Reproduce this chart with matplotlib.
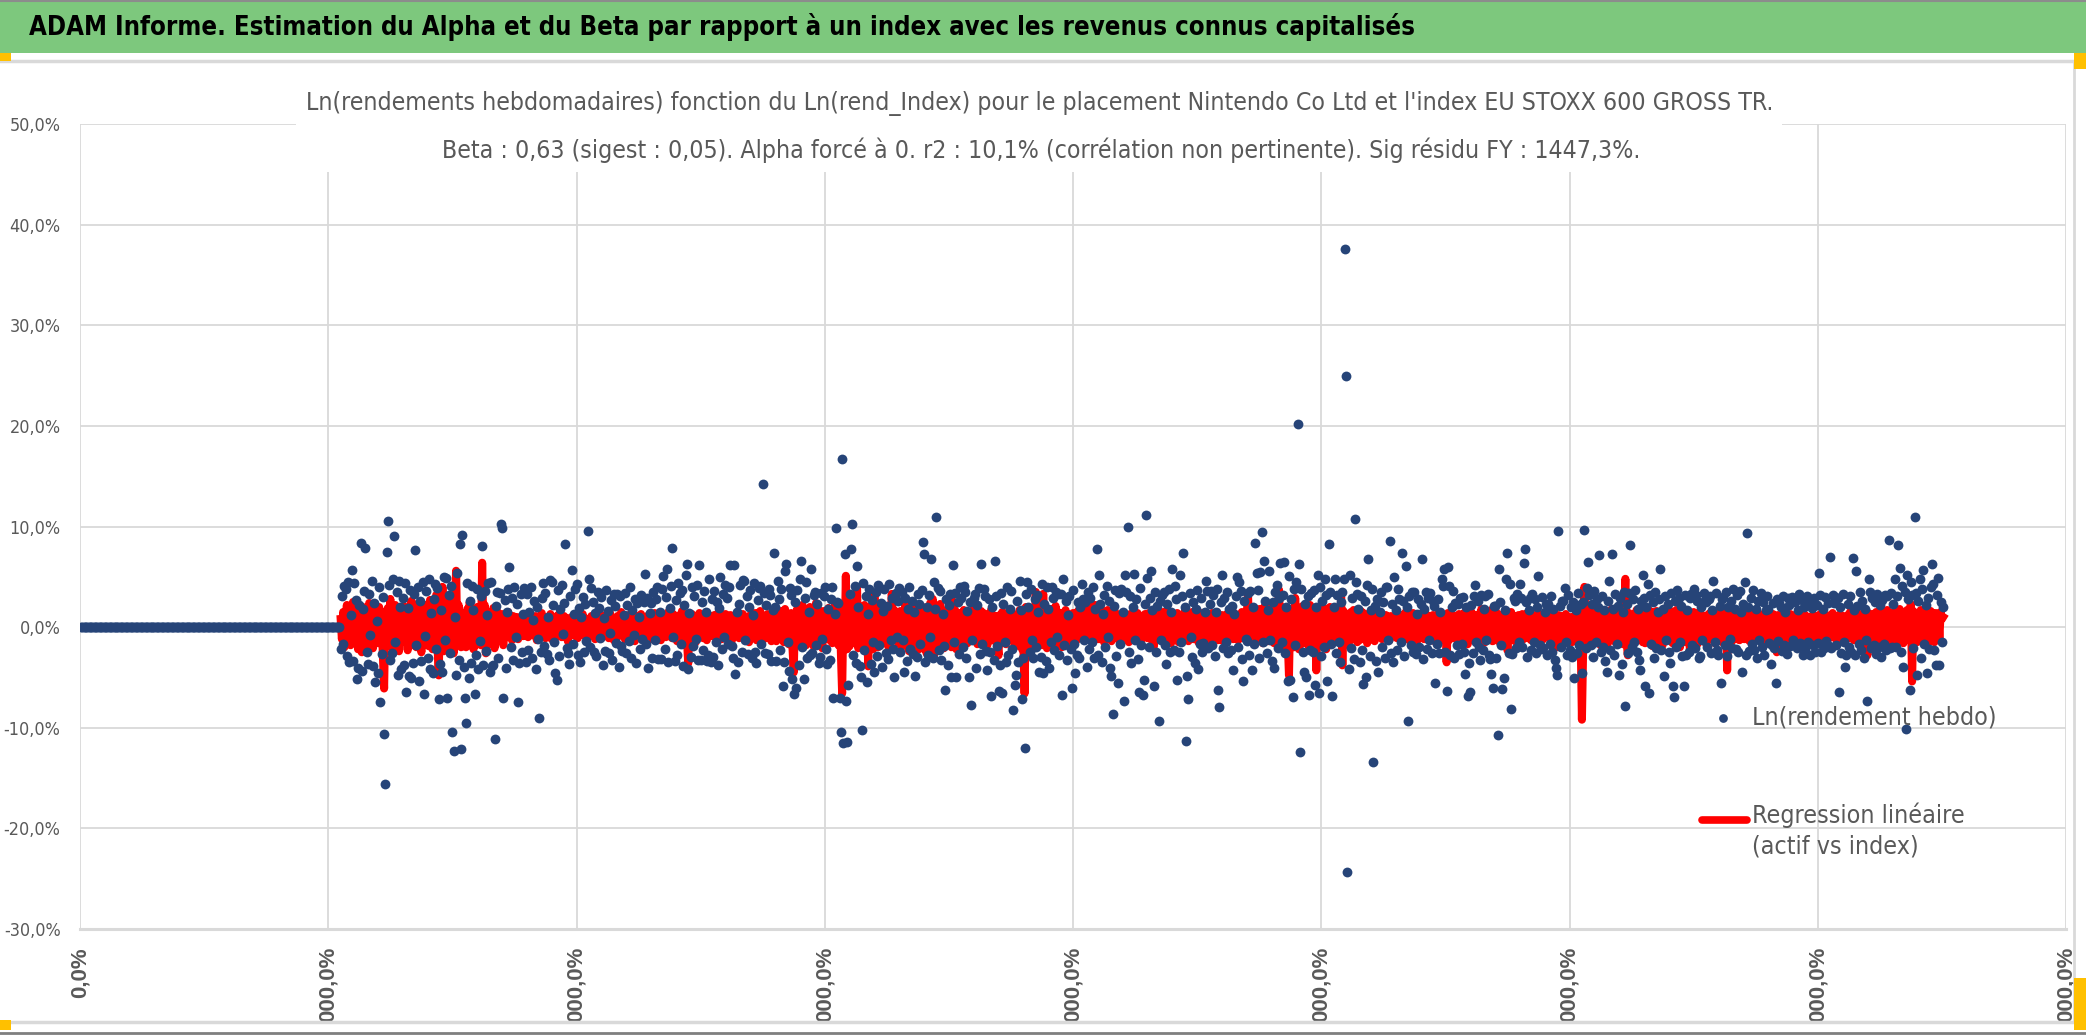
import numpy as np
import matplotlib.pyplot as plt
from matplotlib import font_manager as fm
from matplotlib.ticker import FuncFormatter
from matplotlib.patches import Rectangle
from matplotlib.lines import Line2D

# ------------------------------------------------
# data : weekly log returns, in tenths of a percent
# (50 weeks per block, first real week = 210, weeks 1..209 are zero)
# ------------------------------------------------
first_week = 210
n_zero = first_week - 1

asset_01 = [-22,31,-17,41,38,-29,45,-35,12,57, -34,44,27,-52,-41,22,84,-44,18,36, 79,-25,-37,33,-8,46,-39,24,-55,6, -46,40,-74,-27,30,-106,-156,75,105,42, -33,-26,48,91,-15,35,-48,46,20,-42]
asset_02 = [29,-38,44,-64,19,-49,37,-51,-36,33, 77,-18,40,-54,26,-34,45,-66,-9,36, -31,48,-42,14,-46,28,43,-22,39,-71, -37,17,-45,50,-13,49,-70,32,-26,41, -104,-123,10,-48,54,-33,83,-121,92,-40]
asset_03 = [-70,-95,44,-51,26,-36,41,17,-66,-28, 38,-42,-14,31,81,-38,36,-24,12,44, -45,45,-39,-38,-111,21,35,-31,34,102, 99,-70,27,-41,15,38,60,-20,29,-33, 40,-10,23,-74,-36,33,-25,13,39,-35]
asset_04 = [33,-23,15,40,-31,7,26,-42,20,-12, -90,-25,29,44,-19,34,-27,10,-33,47, 45,22,-15,-46,-53,37,-29,18,42,-7, 24,83,-21,-26,-37,31,57,-17,13,38, 43,-28,19,-35,10,30,-25,23,-14,96]
asset_05 = [48,-20,39,25,-25,14,-29,35,19,-11, 30,-38,9,-24,37,16,-26,-6,27,-33, 33,21,-16,33,-40,31,-19,-24,12,34, -26,22,-14,40,-31,17,-8,28,-36,24, 10,-22,32,-12,25,53,-17,29,-41,14]
asset_06 = [24,-31,35,-13,28,40,-32,15,-32,38, 51,-22,30,58,-35,19,41,79,-10,-34, 27,-28,44,34,-17,37,-39,22,52,63, -42,14,-30,40,-19,31,-12,42,-33,62, -33,25,-23,36,15,-34,-28,48,-35,28]
asset_07 = [-30,36,-15,25,-38,19,50,-22,33,-10, 42,29,-17,40,62,-19,-31,62,-47,15, -35,23,42,-25,47,46,-13,31,-27,20, 37,-31,12,44,-25,-36,27,39,41,-17, 142,34,-26,22,-27,38,32,-34,17,74]
asset_08 = [20,-34,46,28,-23,38,-59,-35,56,63, -15,-44,39,32,-52,-66,25,-60,37,-38, 48,66,-20,-52,29,45,-31,15,-28,58, -26,32,35,-18,23,-36,-30,34,-12,31, 40,-22,-37,18,-33,28,40,-70,13,99]
asset_09 = [25,24,-70,-104,167,-115,73,-73,-114,-58, 33,78,102,-28,41,-36,61,20,-39,-50, -102,44,-23,31,-55,13,38,-37,27,-15, -45,35,-29,42,-18,24,-40,16,38,-26, 21,-32,43,-13,29,-22,-50,34,-10,26]
asset_10 = [39,-25,35,-13,-45,29,-34,18,40,-22, 26,-27,15,-49,-30,33,23,-17,37,85, 73,-35,20,-28,32,-10,68,-31,45,18, 109,39,-23,36,-33,13,-19,-62,28,-38, 22,33,-50,62,-15,34,-50,25,-27,40]
asset_11 = [29,-20,41,35,-31,16,-50,25,-77,-13, 29,33,-41,22,39,-27,63,-17,38,31, -24,-43,28,-25,-68,20,-33,66,31,-19, -63,-38,34,-65,23,-15,-35,40,-28,18, 36,-22,-82,-58,-48,26,-35,46,17,-71]
asset_12 = [-31,-120,33,45,20,-25,38,-13,-31,28, -20,32,15,-45,-30,43,-46,23,-34,40, 18,-41,-15,40,29,-23,35,-10,33,-28, 33,-67,48,-18,26,-33,12,31,-22,-60, 37,-17,-46,-28,25,-31,20,43,28,-13]
asset_13 = [25,-40,35,-22,29,-15,40,-31,18,78, -28,52,23,-35,13,32,-20,41,-10,26, -41,-49,-86,21,37,-29,-56,34,-17,38, 15,-73,52,35,100,-25,31,-36,20,53, -13,28,-32,-64,39,-18,-67,-53,23,111]
asset_14 = [49,-20,29,56,17,-59,35,-25,21,-93, 26,-13,32,35,-18,-37,23,38,-25,15, 58,-23,41,28,-53,-25,52,-15,31,74, 20,-113,-49,-71,34,-10,-30,25,-36,18, 37,-42,-17,29,-25,-16,15,46,36,-21]
asset_15 = [23,36,-18,32,-29,15,38,-62,-79,25, 52,-21,29,-15,35,-26,18,-23,21,-43, 13,31,50,-20,45,36,-32,-54,26,-12, -14,34,-28,36,-43,20,-17,84,54,37, -31,55,95,-15,66,26,-26,17,56,-13]
asset_16 = [-34,25,-41,35,42,-21,29,64,-15,32, 65,-26,20,-54,51,-53,28,-69,38,-18, 45,202,63,-124,38,-25,-45,23,-50,31, -67,-23,34,-25,37,-58,20,52,-65,40, -29,26,-20,48,32,-54,83,35,-17,-68]
asset_17 = [20,48,-26,32,-15,-35,25,35,48,376, 250,-243,-42,52,-21,29,-32,107,45,33, 18,-35,31,-23,-57,26,-50,42,68,-29, 17,38,-134,21,-34,28,-45,15,35,-20, 25,-31,40,40,-13,86,-26,23,-35,50]
asset_18 = [17,-23,38,28,-15,74,26,-29,61,20, -93,31,-18,35,-25,35,-27,13,28,-20, 23,68,-32,18,35,-22,29,-13,34,-26, 26,21,-56,-17,28,-26,15,48,41,58, -25,-63,60,41,-28,20,36,-31,24,-18]
asset_19 = [23,-27,29,-17,30,-25,-47,20,-68,-36, -64,22,-26,31,42,-15,26,-20,-33,32, -23,18,31,-13,33,-28,-32,-47,-60,21, 21,-31,-107,58,25,-18,-61,-51,17,48, 74,-26,43,-81,-27,29,26,-21,33,-15]
asset_20 = [43,29,-20,64,78,25,-30,17,29,-23, 33,-15,28,-26,20,51,-18,-22,30,-21, 15,23,-28,23,-17,31,-25,18,-33,-41, -48,96,21,-20,26,26,39,-15,-28,32, -23,20,-30,25,-51,17,-26,34,-18,23]
asset_21 = [-46,25,97,-21,39,65,32,-18,23,-30, 36,-15,28,20,72,-25,31,-20,17,-34, -45,26,46,-23,73,18,-28,33,-17,21, -48,29,-37,15,35,-78,23,-26,34,82, -20,28,-15,37,-25,18,-33,-43,26,52]
asset_22 = [29,-59,20,43,-65,32,-17,25,-31,35, -21,15,28,58,-23,18,-49,31,-13,23, -25,-36,34,-59,-69,26,-20,37,29,-15, 21,-29,-59,32,-28,17,-25,29,33,-18, 38,-21,32,26,-31,-29,20,-13,34,27]
asset_23 = [25,-20,28,31,-26,17,46,-15,34,-23, -28,21,-56,28,30,-18,35,-29,20,-12, 26,-21,38,18,-22,32,-25,36,15,-45, 23,45,-28,94,20,-24,29,-17,37,-23, 18,-31,26,-13,34,-20,25,-28,17,31]
asset_24 = [18,-16,-37,-18,24,-21,-56,28,-14,24, 20,-24,31,-18,15,-27,29,22,-19,30, -13,-15,25,-21,17,33,-16,27,-28,20, -22,31,-15,24,-28,19,-18,29,-25,22, -16,54,32,-25,18,-21,30,-14,24,-19]
asset_25 = [70,-21,32,24,30,-18,29,-64,20,-26, 33,-15,-40,-28,23,-20,31,-25,69,17, -28,56,21,-17,35,-23,26,-31,18,-13, -73,48,35,-21,29,-18,25,-27,33,-20, 22,-30,27,-17,32,-23,31,87,-21,34]
asset_26 = [-20,23,48,-20,31,82,59,-25,41,-40, 35,-101,52,28,-62,45,32,-21,109,34, -48,26,48,-31,38,57,-17,22,-46,29, -22,40,63,43,-23,-38,32,49,-38,25, -15,20]

# regression line (beta x index return), same weeks, tenths of a percent
reg_01 = [8,-12,15,-20,6,22,-9,14,-18,10, 25,-6,-15,18,-22,9,12,-25,20,-4, 16,-19,8,24,-13,5,-21,17,-8,12, -16,20,-11,7,-27,-61,15,-9,19,-14, 28,-20,10,-6,22,-17,13,-24,9,16]
reg_02 = [-14,21,-8,17,-23,12,-5,26,-18,9, 14,-20,23,-11,6,-25,18,-9,22,-15, 10,-19,27,-7,-22,15,-12,32,-17,-48, 20,-10,40,-24,12,-18,25,-9,16,-21, 11,-26,19,56,-14,22,-8,-20,14,-12]
reg_03 = [12,-20,18,-9,25,-16,10,-22,15,-7, 20,-13,9,-18,64,-12,22,-26,8,14, -17,11,-9,19,-21,6,16,-14,10,-8, 13,-18,7,12,-10,15,-6,9,-13,11, -8,6,10,-12,8,-5,11,-9,7,-6]
reg_04 = [7,-10,5,12,-8,9,-4,11,-13,6, -9,8,14,-6,10,-11,4,9,-7,13, -12,6,-5,10,-9,12,-3,8,-10,5, 11,-7,9,-14,6,-8,10,-5,12,-9, 4,-11,7,9,-6,13,-8,5,-10,8]
reg_05 = [6,-9,11,-5,8,-12,10,-7,13,-4, 9,-10,5,12,-8,7,-11,14,-6,9, -13,8,-5,11,-9,6,15,-7,10,-12, 5,-8,12,-10,7,-5,9,-14,11,-6, 8,-9,13,-7,10,-11,6,-8,12,-5]
reg_06 = [9,-12,7,14,-8,11,-6,10,-13,8, -7,12,-10,6,15,-9,8,-11,13,-5, 10,-14,7,12,-8,16,-10,5,-18,-12, -36,9,-7,13,-10,8,-15,11,-6,14, -9,12,-11,7,10,-13,8,-6,11,-9]
reg_07 = [-8,12,-10,7,14,-9,6,-12,11,-7, 13,-10,8,-6,12,-14,9,-5,11,-8, 15,-11,7,-9,13,-6,10,-12,8,-15, 12,-7,9,-10,14,-13,11,-8,16,-9, 7,-12,10,-6,13,-11,9,-14,12,-8]
reg_08 = [10,-14,13,-9,16,-12,8,-15,18,-10, 12,-17,9,14,-20,-45,11,-13,19,-8, 15,-16,22,-11,9,-18,14,-7,20,-12, 13,-19,10,24,-14,17,-9,12,-21,16, -10,14,-8,19,-13,11,-16,9,21,-12]
reg_09 = [14,-18,22,-25,-66,18,-20,51,-22,15, -19,24,-16,20,-14,12,40,-21,17,-13, 19,-15,22,-18,14,-39,20,-16,13,-22, 34,-14,18,-20,12,-17,15,-11,21,-13, 16,-19,12,-15,33,-12,17,-10,14,-16]
reg_10 = [-12,16,-20,11,-15,22,-9,18,-24,13, -16,10,-19,21,-11,14,-22,17,-8,20, -13,15,-26,12,-18,24,-10,28,-28,16, -14,19,-12,23,-17,11,-21,15,-9,18, -15,12,-20,26,-13,17,-22,10,-16,14]
reg_11 = [11,-14,17,-9,13,-16,8,-12,15,-10, 18,-13,9,-17,12,-8,16,-11,14,-15, 10,-18,13,-9,17,-12,8,-14,11,-16, -28,12,-10,15,-13,9,-17,14,-8,16, -11,13,-15,10,-19,12,-9,17,-13,-22]
reg_12 = [-18,-66,20,-15,12,-22,17,-11,14,-20, 35,-16,19,-13,22,-18,33,-14,12,-21, 16,-10,18,-15,13,-19,21,-12,15,-17, 11,-20,14,-9,17,-13,10,-16,12,-8, 14,-11,9,-13,16,-10,12,-7,15,-12]
reg_13 = [12,-9,18,-11,24,-8,15,-13,22,-10, 16,-12,20,-9,14,-15,11,-10,17,-8, 13,-14,10,-11,15,-9,12,-13,9,-10, 14,-8,11,-12,10,-15,13,-9,8,-11, 12,-10,14,-7,9,-13,11,-8,13,-10]
reg_14 = [-11,14,-9,12,-15,-20,10,-13,16,-8, 12,-10,15,-14,9,-12,17,-9,11,-16, 13,-11,10,-8,14,-15,12,-10,9,-13, 16,-11,8,-14,12,-9,15,-12,10,-8, 13,-15,11,-9,14,-12,9,-16,12,-10]
reg_15 = [9,-12,14,-10,11,-8,15,-13,10,-9, 12,-14,8,-11,13,-10,16,-9,11,-12, 14,-8,10,-13,9,-11,15,-10,12,-9, 13,32,-11,14,-9,10,-12,16,-14,11, 18,-10,15,-16,20,-12,17,-14,19,-11]
reg_16 = [-14,19,-16,22,-12,17,37,-15,20,-18, 14,-21,16,-13,-48,18,-17,12,-20,29, -15,19,-22,14,-17,21,-12,18,-16,13, -19,22,-14,17,-20,15,-43,19,-13,16, -18,21,-15,13,-22,17,-12,20,-16,14]
reg_17 = [12,-15,18,-11,14,-13,30,-38,16,-12, 13,-17,10,-14,15,-11,17,-9,12,-15, 11,-13,16,-10,14,-12,9,-16,13,-10, 15,-12,11,-14,8,-10,13,-9,11,-12, 10,-8,12,-11,9,-13,11,-7,10,-9]
reg_18 = [9,-11,13,-8,12,-14,10,-9,15,-12, 8,-13,11,-10,14,-9,12,-15,10,-8, 13,-11,9,-12,14,-10,11,-13,8,-9, 12,-14,10,-11,13,-8,15,-12,9,-10, 11,-35,14,-13,10,-9,12,-11,8,-10]
reg_19 = [-10,13,-15,11,-9,14,-12,16,-17,10, -13,15,-11,12,-14,9,-16,13,-10,18, -12,11,-15,14,-9,12,-11,17,-14,10, -13,15,-10,12,-16,9,-12,14,-18,11, -23,13,-10,15,-12,9,-14,11,-9,12]
reg_20 = [11,-9,13,-12,8,-10,14,-11,9,-13, 10,-8,12,-14,9,-11,13,-10,8,-12, 11,-9,14,-10,12,-8,10,-13,9,-11, -20,12,-9,11,-14,10,-8,13,-11,9, -12,10,-15,8,-11,13,-9,-16,12,-10]
reg_21 = [-92,-20,40,-12,18,-15,14,-17,19,-11, 16,-13,20,-14,12,-18,15,-10,17,-13, 11,-16,14,-12,18,-9,13,-15,10,-14, 16,-11,12,-17,15,48,-13,-28,14,-10, 12,-16,11,-13,17,-9,14,-12,10,-15]
reg_22 = [13,-16,11,-14,17,-12,15,-19,10,-13, 16,-11,14,-15,12,-18,11,-10,15,-13, 18,-12,10,-16,13,-14,17,-11,12,-20, 14,-13,11,-15,16,-12,13,-25,10,-14, 15,-11,12,-17,14,-10,13,-12,11,-15]
reg_23 = [11,-14,13,-10,15,-12,9,-16,12,-11, 14,-13,10,-15,12,-9,16,-43,13,-11, 10,-14,12,-9,15,-12,11,-13,14,-10, 9,-12,16,-11,13,-14,10,-9,12,-13, 15,-10,11,-12,9,-14,13,-11,10,-12]
reg_24 = [10,-12,9,-11,13,-8,11,-25,12,-10, 9,-13,11,-9,12,-10,8,-12,13,-9, 10,-11,12,-8,9,-13,11,-10,14,-9, 12,-11,10,-13,9,-8,12,-10,11,-12, 9,-10,13,-11,10,-9,12,-13,8,-11]
reg_25 = [12,-10,14,-9,11,-13,10,-12,13,-8, 11,-14,9,-10,12,-11,15,-9,10,-13, 12,-10,14,-12,9,-11,13,-15,10,-12, -28,14,-11,12,-16,13,-10,15,-12,11, 16,-13,12,-15,14,-11,17,-14,13,-16]
reg_26 = [14,-12,16,-15,13,-11,18,-14,12,-16, 15,-13,17,-10,14,23,-54,16,-13,12, -15,14,-11,17,-13,15,-12,18,-10,13, -14,16,-12,11,-15,14,-9,13,-11,15, 8,10]

asset_blocks = [asset_01, asset_02, asset_03, asset_04, asset_05, asset_06, asset_07,
                asset_08, asset_09, asset_10, asset_11, asset_12, asset_13, asset_14,
                asset_15, asset_16, asset_17, asset_18, asset_19, asset_20, asset_21,
                asset_22, asset_23, asset_24, asset_25, asset_26]
reg_blocks = [reg_01, reg_02, reg_03, reg_04, reg_05, reg_06, reg_07, reg_08, reg_09,
              reg_10, reg_11, reg_12, reg_13, reg_14, reg_15, reg_16, reg_17, reg_18,
              reg_19, reg_20, reg_21, reg_22, reg_23, reg_24, reg_25, reg_26]

x_ticks = [0, 200, 400, 600, 800, 1000, 1200, 1400, 1600]
# the labels are cut at the bottom of the chart area, only the end shows
x_labels = ["0,0%", "000,0%", "000,0%", "000,0%", "000,0%", "000,0%", "000,0%", "000,0%", "000,0%"]
y_ticks = [-30, -20, -10, 0, 10, 20, 30, 40, 50]

title_txt = "ADAM Informe. Estimation du Alpha et du Beta par rapport à un index avec les revenus connus capitalisés"
sub1 = "Ln(rendements hebdomadaires) fonction du Ln(rend_Index) pour le placement Nintendo Co Ltd et l'index EU STOXX 600 GROSS TR."
sub2 = "Beta : 0,63 (sigest : 0,05). Alpha forcé à 0. r2 : 10,1% (corrélation non pertinente). Sig résidu FY : 1447,3%."
lab_asset = "Ln(rendement hebdo)"
lab_reg = "Regression linéaire\n(actif vs index)"

# ------------------------------------------------
asset = np.concatenate([np.zeros(n_zero)] + [np.array(b, float) for b in asset_blocks]) / 10
weeks = np.arange(1, len(asset) + 1)
reg = np.concatenate([np.array(b, float) for b in reg_blocks]) / 10
reg_weeks = np.arange(first_week, first_week + len(reg))


def narrow_font(bold=False):
    # a narrow sans if one is installed (closest to Calibri), else Liberation Sans
    prefs = ['liberation sans narrow', 'arial narrow', 'dejavu sans', 'roboto condensed', 'open sans condensed']
    found = []
    for f in fm.fontManager.ttflist:
        name = f.name.lower()
        narrow = 'narrow' in name or 'condensed' in name or str(f.stretch).endswith('condensed')
        if not narrow or 'serif' in name or 'mono' in name or f.style != 'normal':
            continue
        w = f.weight if isinstance(f.weight, int) else (700 if 'bold' in str(f.weight) else 400)
        if (w >= 600) != bold:
            continue
        rank = next((i for i, p in enumerate(prefs) if name.startswith(p)), len(prefs))
        found.append((rank, f.fname))
    if found:
        return fm.FontProperties(fname=sorted(found)[0][1])
    return fm.FontProperties(family='Liberation Sans', weight='bold' if bold else 'normal')


W, H = 2086, 1035
GREY = '#595959'
NAVY = '#264478'
GRID = '#D9D9D9'
FP = narrow_font(False)
FPB = narrow_font(True)

def fx(px): return px / W
def fy(py): return 1 - py / H

fig = plt.figure(figsize=(W / 100, H / 100), dpi=100, facecolor='white')
rend = fig.canvas.get_renderer()

def fit(t, width_px):
    w = t.get_window_extent(rend).width
    t.set_fontsize(t.get_fontsize() * width_px / w)
    return t.get_fontsize()

# header band
fig.add_artist(Rectangle((0, fy(53)), 1, 1 - fy(53), transform=fig.transFigure,
                         facecolor='#7DC87D', edgecolor='none', zorder=0))
t = fig.text(fx(29), fy(27), title_txt, fontproperties=FPB, size=20, color='black',
             ha='left', va='center')
fit(t, 1382)
fig.add_artist(Line2D([0, 1], [fy(61), fy(61)], transform=fig.transFigure, color=GRID, lw=2.5))
fig.add_artist(Line2D([0, 1], [fy(1), fy(1)], transform=fig.transFigure, color='#8C8C8C', lw=1.5))
fig.add_artist(Line2D([0, 1], [fy(1033), fy(1033)], transform=fig.transFigure, color='#7F7F7F', lw=2))
fig.add_artist(Line2D([0, 1], [fy(1022), fy(1022)], transform=fig.transFigure, color=GRID, lw=2.5))
fig.add_artist(Line2D([fx(2074), fx(2074)], [fy(61), fy(1022)], transform=fig.transFigure, color=GRID, lw=2))
for (x0, y0, w, h) in [(0, 53, 11, 8), (2074, 53, 12, 16), (0, 1020, 11, 10), (2074, 978, 12, 52)]:
    fig.add_artist(Rectangle((fx(x0), fy(y0 + h)), w / W, h / H, transform=fig.transFigure,
                             facecolor='#FFC000', edgecolor='none', zorder=5))

ax = fig.add_axes([fx(80), fy(929), fx(2066) - fx(80), fy(124) - fy(929)])
ax.plot(reg_weeks, reg, color='#FF0000', lw=5.8, solid_joinstyle='round', zorder=2)
ax.scatter(weeks, asset, s=50, color=NAVY, linewidths=0, zorder=3)

ax.set_xlim(0, 1600)
ax.set_ylim(-30, 50)
ax.set_xticks(x_ticks, x_labels)
ax.set_yticks(y_ticks)
ax.yaxis.set_major_formatter(FuncFormatter(lambda v, p: f"{v:.1f}%".replace('.', ',')))
ax.grid(True, color=GRID, lw=1.3)
ax.set_axisbelow(True)
for s in ['top', 'right', 'left']:
    ax.spines[s].set_visible(False)
ax.spines['bottom'].set_color(GRID)
ax.spines['bottom'].set_linewidth(2.2)
ax.tick_params(axis='both', length=0)
ax.tick_params(axis='y', pad=14, labelcolor=GREY)
ax.tick_params(axis='x', pad=13, labelsize=16, labelcolor=GREY, labelrotation=90)

probe = fig.text(0, 0, "50,0%", fontproperties=FP, size=15)
ysize = fit(probe, 51)
probe.remove()
for lab in ax.get_yticklabels():
    lab.set_fontproperties(FP)
    lab.set_fontsize(ysize)
for lab in ax.get_xticklabels():
    lab.set_family(['Liberation Sans', 'DejaVu Sans'])
    lab.set_weight('bold')

# chart title with white box over the top grid lines
fig.add_artist(Rectangle((fx(296), fy(172)), fx(1782) - fx(296), fy(78) - fy(172),
                         transform=fig.transFigure, facecolor='white', edgecolor='none', zorder=1))
t1 = fig.text(fx(1040), fy(104), sub1, fontproperties=FP, size=20, color=GREY,
              ha='center', va='center', zorder=2)
fit(t1, 1464)
t2 = fig.text(fx(1041), fy(150), sub2, fontproperties=FP, size=t1.get_fontsize(), color=GREY,
              ha='center', va='center', zorder=2)

# legend
fig.add_artist(Line2D([fx(1723)], [fy(718)], transform=fig.transFigure, marker='o',
                      markersize=6.3, color=NAVY, markeredgewidth=0, zorder=4))
t3 = fig.text(fx(1752), fy(718), lab_asset, fontproperties=FP, size=21, color=GREY,
              ha='left', va='center', zorder=4)
lsize = fit(t3, 244)
fig.add_artist(Line2D([fx(1702), fx(1747)], [fy(820), fy(820)], transform=fig.transFigure,
                      color='#FF0000', lw=5.5, solid_capstyle='round', zorder=4))
fig.text(fx(1752), fy(803), lab_reg, fontproperties=FP, size=lsize, color=GREY, ha='left', va='top',
         linespacing=1.3, zorder=4)

fig.savefig('out.png', dpi=100, facecolor='white')
